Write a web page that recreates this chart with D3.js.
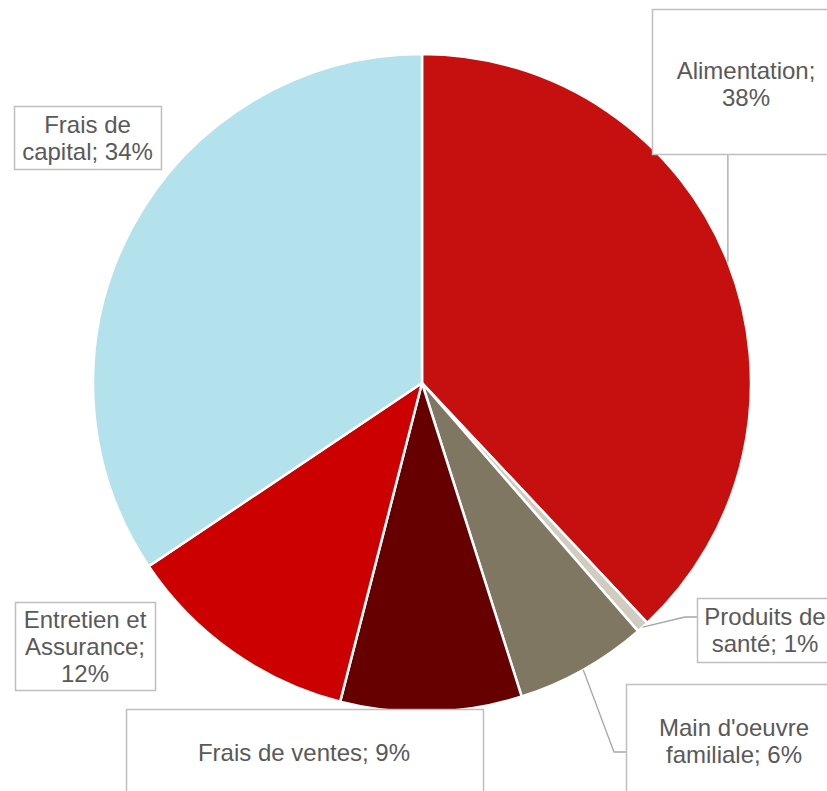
<!DOCTYPE html>
<html>
<head>
<meta charset="utf-8">
<script src="https://cdn.jsdelivr.net/npm/d3@7"></script>
<style>
  html, body { margin: 0; padding: 0; background: #ffffff; overflow: hidden; }
  svg { display: block; }
</style>
</head>
<body>
<svg id="chart"></svg>
<script>
// data (clockwise from 12 o'clock)
const categories = ['Alimentation', 'Produits de santé', "Main d'oeuvre familiale", 'Frais de ventes', 'Entretien et Assurance', 'Frais de capital'];
const values = [38.0, 0.6, 6.5, 8.9, 11.6, 34.4];
const percentLabels = ['38%', '1%', '6%', '9%', '12%', '34%'];
const labelLines = [
  ['Alimentation;', '38%'],
  ['Produits de', 'santé; 1%'],
  ["Main d'oeuvre", 'familiale; 6%'],
  ['Frais de ventes; 9%'],
  ['Entretien et', 'Assurance;', '12%'],
  ['Frais de', 'capital; 34%']
];

const colors = ['#c61010', '#d0ccc0', '#7f7762', '#660000', '#cc0000', '#b4e2ec'];

// label box layout (box, text centre, optional leader elbow)
const labelLayout = [
  { box: [652, 9, 190, 145], cx: 746, cy: 84, leader: 'vertical' },
  { box: [697, 598, 140, 64], cx: 765, cy: 630, elbow: [685, 617], end: [697, 617] },
  { box: [626, 684, 220, 120], cx: 734, cy: 741, elbow: [614, 752], end: [626, 752] },
  { box: [126, 709, 357, 100], cx: 304, cy: 752.5 },
  { box: [15, 602, 140, 88], cx: 85, cy: 646.5 },
  { box: [14, 106, 147, 63], cx: 87.5, cy: 138 }
];

const width = 827, height = 791;
const cx = 422, cy = 383, radius = 329;
const lineH = 27;

const svg = d3.select('#chart')
  .attr('width', width)
  .attr('height', height)
  .attr('viewBox', [0, 0, width, height]);

const pie = d3.pie().sort(null).value(d => d);
const arcs = pie(values);
const arc = d3.arc().innerRadius(0).outerRadius(radius);

const g = svg.append('g').attr('transform', `translate(${cx},${cy})`);

g.selectAll('path.slice')
  .data(arcs)
  .enter().append('path')
  .attr('class', 'slice')
  .attr('d', arc)
  .attr('fill', (d, i) => colors[i])
  .attr('stroke', '#ffffff')
  .attr('stroke-width', 2.5)
  .attr('stroke-linejoin', 'round');

// leader lines from the outer edge at mid angle
const outerPoint = d => {
  const a = (d.startAngle + d.endAngle) / 2;
  return [cx + radius * Math.sin(a), cy - radius * Math.cos(a)];
};

arcs.forEach((d, i) => {
  const lay = labelLayout[i];
  const p = outerPoint(d);
  let pts = null;
  if (lay.leader === 'vertical') {
    pts = [p, [p[0], lay.box[1] + lay.box[3]]];
  } else if (lay.elbow) {
    pts = [p, lay.elbow, lay.end];
  }
  if (pts) {
    svg.append('path')
      .attr('d', d3.line()(pts))
      .attr('fill', 'none')
      .attr('stroke', '#a6a6a6')
      .attr('stroke-width', 1.3);
  }
});

// label boxes
const labels = svg.append('g')
  .selectAll('g')
  .data(arcs)
  .enter().append('g');

labels.append('rect')
  .attr('x', (d, i) => labelLayout[i].box[0] + 0.5)
  .attr('y', (d, i) => labelLayout[i].box[1] + 0.5)
  .attr('width', (d, i) => labelLayout[i].box[2])
  .attr('height', (d, i) => labelLayout[i].box[3])
  .attr('fill', '#ffffff')
  .attr('stroke', '#bfbfbf')
  .attr('stroke-width', 1.5);

labels.each(function(d, i) {
  const lay = labelLayout[i];
  const lines = labelLines[i];
  const t = d3.select(this).append('text')
    .attr('text-anchor', 'middle')
    .style('font-family', '"Liberation Sans", Arial, sans-serif')
    .style('font-size', '24px')
    .style('fill', '#595959');
  lines.forEach((ln, j) => {
    t.append('tspan')
      .attr('x', lay.cx)
      .attr('y', lay.cy + (j - (lines.length - 1) / 2) * lineH + 8.5)
      .text(ln);
  });
});
</script>
</body>
</html>
